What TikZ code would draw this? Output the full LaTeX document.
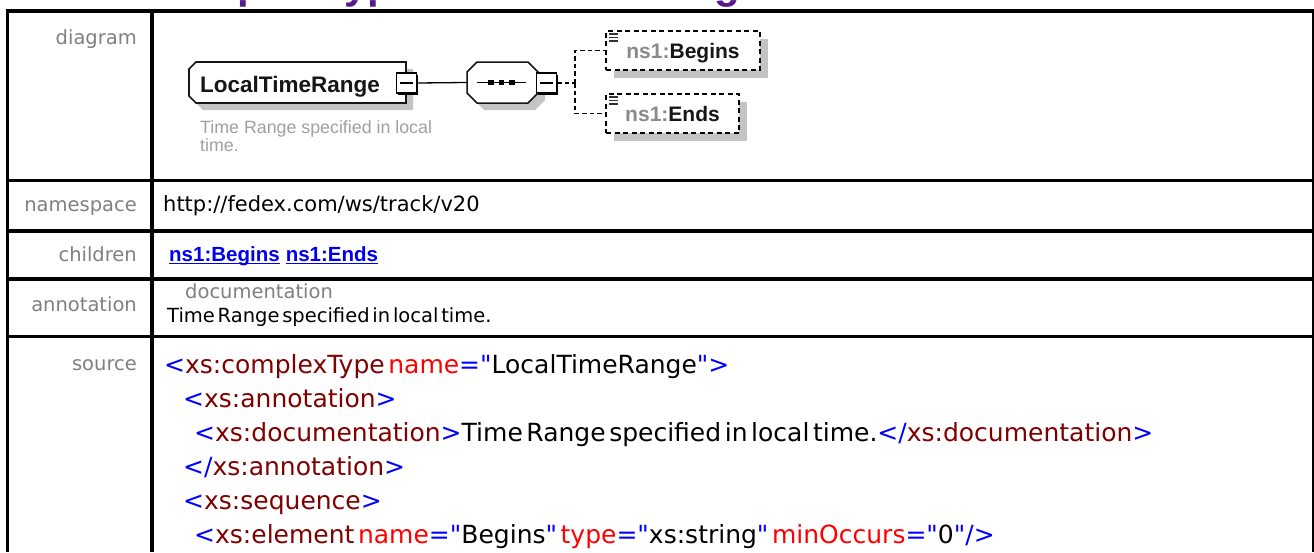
\documentclass[tikz,border=0pt]{standalone}
\usepackage{fontspec}
\usetikzlibrary{calc,shadows}
\setmainfont{DejaVu Sans}
\newfontfamily\lblfont{DejaVu Sans}
\newfontfamily\srcfont[WordSpace=0.45]{DejaVu Sans}
\newfontfamily\dgfont{Liberation Sans}
\definecolor{lblgrey}{HTML}{808080}
\definecolor{xblue}{HTML}{0000FF}
\definecolor{xdred}{HTML}{800000}
\definecolor{xred}{HTML}{FF0000}
\definecolor{linkblue}{HTML}{0000EE}
\definecolor{ttlpurple}{HTML}{551A8B}
\definecolor{shgrey}{HTML}{C4C4C4}
\definecolor{dggrey}{HTML}{A0A0A0}
\definecolor{nsgrey}{HTML}{8A8A8A}
\definecolor{dgblack}{HTML}{161616}
\newcommand{\Xlt}{\textcolor{xblue}{<}}
\newcommand{\Xgt}{\textcolor{xblue}{>}}
\newcommand{\Xcl}{\textcolor{xblue}{</}}
\newcommand{\Xel}[1]{\textcolor{xdred}{#1}}
\newcommand{\Xat}[1]{\textcolor{xred}{#1}}
\newcommand{\Xeq}{\textcolor{xblue}{="}}
\newcommand{\Xq}{\textcolor{xblue}{"}}
\newcommand{\ltrpath}{(196,62) -- (406,62) -- (406,103) -- (196,103) -- (189,96) -- (189,69) -- cycle}
\newcommand{\seqpath}{(477,62) -- (528,62) -- (538,72) -- (538,93) -- (528,103) -- (477,103) -- (467,93) -- (467,72) -- cycle}
\tikzset{
  grid/.style={line width=3.3pt, black},
  lbl/.style={anchor=base east, inner sep=0pt, text=lblgrey, font=\lblfont\fontsize{19.5}{23}\selectfont},
  cell/.style={anchor=base west, inner sep=0pt, text=black, font=\lblfont\fontsize{19.5}{23}\selectfont},
  link/.style={anchor=base west, inner sep=0pt, text=linkblue, font=\dgfont\bfseries\fontsize{20.5}{24}\selectfont},
  src/.style={anchor=base west, inner sep=0pt, text=black, font=\srcfont\fontsize{25}{30}\selectfont},
  ttl/.style={anchor=base west, inner sep=0pt, text=ttlpurple, font=\dgfont\bfseries\fontsize{42}{48}\selectfont},
  anchorbox/.style={rectangle, draw=none, inner sep=0pt},
  outline/.style={draw=dgblack, line width=1.7pt, fill=white},
  btn/.style={rectangle, draw=black, line width=1.3pt, fill=white, minimum size=20pt, inner sep=0pt,
    drop shadow={shadow xshift=1.8pt, shadow yshift=-1.8pt, fill=black, opacity=1},
    path picture={\draw[line width=1.4pt] ([xshift=3.5pt]path picture bounding box.west) -- ([xshift=-3.5pt]path picture bounding box.east);}},
  elbox/.style={rectangle, draw=black, line width=1.8pt, dash pattern=on 5pt off 3.5pt, fill=white,
    inner sep=0pt, minimum height=39pt, text height=15pt, text depth=0pt,
    font=\dgfont\bfseries\fontsize{21}{25}\selectfont, text=dgblack,
    drop shadow={shadow xshift=8pt, shadow yshift=-8pt, fill=shgrey, opacity=1}},
  tree/.style={line width=1.4pt, dash pattern=on 4.5pt off 3pt},
  dgtxt/.style={anchor=base west, inner sep=0pt, text=dgblack, font=\dgfont\bfseries\fontsize{22.5}{26}\selectfont},
  dgdoc/.style={anchor=base west, inner sep=0pt, text=dggrey, font=\dgfont\fontsize{17.8}{20}\selectfont},
  uline/.style={linkblue, line width=1.5pt},
}
\begin{document}
\begin{tikzpicture}[x=1pt,y=-1pt]
\useasboundingbox (0,0) rectangle (1314,552);
\clip (0,0) rectangle (1314,552);
\fill[white] (0,0) rectangle (1314,552);
% clipped title
\node[ttl] (title) at (151,-1.5) {complexType LocalTimeRange};
\fill[white] (0,0) rectangle (1314,0.01);
% table grid
\draw[grid] (5.8,11) -- (1313.5,11);
\draw[grid] (7.5,9.3) -- (7.5,552);
\draw[line width=2pt] (1312.8,9.3) -- (1312.8,552);
\draw[grid] (152,11) -- (152,552);
\draw[grid] (7.5,180.5) -- (1312.8,180.5);
\draw[grid] (7.5,231) -- (1312.8,231);
\draw[grid] (7.5,279) -- (1312.8,279);
\draw[grid] (7.5,336.5) -- (1312.8,336.5);
% row labels
\node[lbl] (Ldiagram) at (137,44) {diagram};
\node[lbl] (Lnamespace) at (137,211) {namespace};
\node[lbl] (Lchildren) at (137,261) {children};
\node[lbl] (Lannotation) at (137,311) {annotation};
\node[lbl] (Lsource) at (137,370) {source};
% cells
\node[cell, font=\lblfont\fontsize{21}{24}\selectfont] (nsuri) at (163,211) {http://fedex.com/ws/track/v20};
\node[link] (kid1) at (169,261) {ns1:Begins};
\node[link] (kid2) at ($(kid1.base east)+(5.7,0)$) {ns1:Ends};
\draw[uline] ($(kid1.base west)+(0,2.6)$) -- ($(kid1.base east)+(0,2.6)$);
\draw[uline] ($(kid2.base west)+(0,2.6)$) -- ($(kid2.base east)+(0,2.6)$);
\node[cell, text=lblgrey] (docword) at (185,298) {documentation};
\node[cell] (doctext) at (167,322) {Time Range specified in local time.};
% source
\node[src] (s1) at (164,373) {\Xlt\Xel{xs:complexType} \Xat{name}\Xeq LocalTimeRange\Xq\Xgt};
\node[src] (s2) at (183,407) {\Xlt\Xel{xs:annotation}\Xgt};
\node[src] (s3) at (194,441) {\Xlt\Xel{xs:documentation}\Xgt Time Range specified in local time.\Xcl\Xel{xs:documentation}\Xgt};
\node[src] (s4) at (183,475) {\Xcl\Xel{xs:annotation}\Xgt};
\node[src] (s5) at (183,509) {\Xlt\Xel{xs:sequence}\Xgt};
\node[src] (s6) at (194,543) {\Xlt\Xel{xs:element} \Xat{name}\Xeq Begins\Xq{} \Xat{type}\Xeq xs:string\Xq{} \Xat{minOccurs}\Xeq 0\Xq\textcolor{xblue}{/>}};
% diagram: complex type box
\begin{scope}[shift={(7,7)}]
  \fill[shgrey] \ltrpath;
  \fill[shgrey] \seqpath;
\end{scope}
\path[outline] \ltrpath;
\path[outline, line width=1.5pt] \seqpath;
\node[anchorbox, minimum width=217pt, minimum height=41pt] (ltr) at (297.5,82.5) {};
\node[anchorbox, minimum width=71pt, minimum height=41pt] (seq) at (502.5,82.5) {};
\draw[line width=1.3pt] ([xshift=10pt]seq.west) -- ([xshift=-12pt]seq.east);
\foreach \cx in {491,501.5,512}{\fill (\cx-2.6,79.9) rectangle (\cx+2.6,85.1);}
\node[dgtxt] (ltrtxt) at (200,92) {LocalTimeRange};
\node[btn] (ltrbtn) at (406.5,83) {};
\node[dgdoc] (ltrdoc1) at (200,133) {Time Range specified in local};
\node[dgdoc] (ltrdoc2) at (200,151) {time.};
\node[btn] (seqbtn) at (546.5,83) {};
\node[elbox, minimum width=154pt] (begins) at (683,50.5) {\textcolor{nsgrey}{ns1:}Begins};
\node[elbox, minimum width=133pt] (ends) at (672.5,113.5) {\textcolor{nsgrey}{ns1:}Ends};
\foreach \nd in {begins,ends}{
  \foreach \dy in {4,7.5,11}{
    \draw[line width=1.3pt, black!80] ([shift={(4,\dy)}]\nd.north west) -- ++(9,0);
  }
}
\draw[line width=1.3pt] (ltrbtn.east) -- (seq.west);
\draw[tree] (seqbtn.east) -- ++(18,0) coordinate (fork);
\draw[tree] (fork) |- (begins.west);
\draw[tree] (fork) |- (ends.west);
\end{tikzpicture}
\end{document}
